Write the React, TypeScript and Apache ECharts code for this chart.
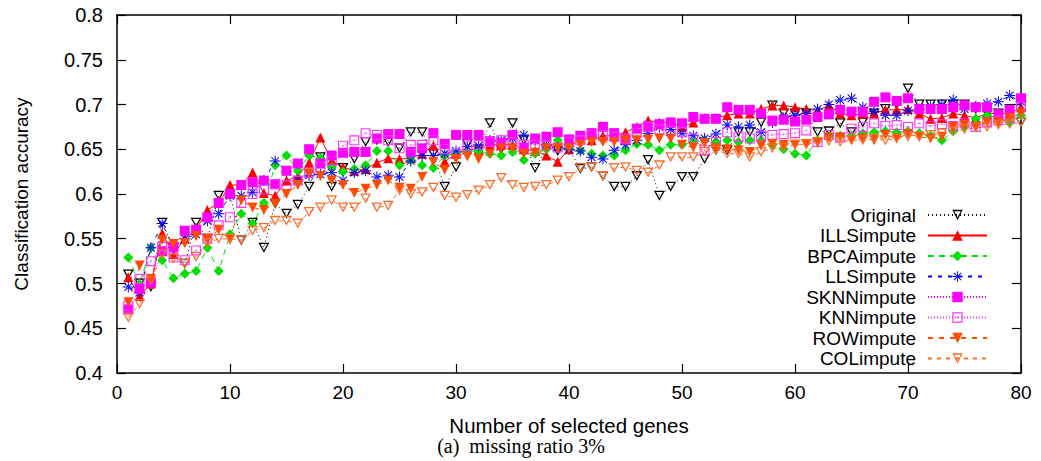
import React, { useEffect, useRef } from "react";
import * as echarts from "echarts";

const genes = [
  1, 2, 3, 4, 5, 6, 7, 8, 9, 10, 11, 12, 13, 14, 15, 16, 17, 18, 19, 20,
  21, 22, 23, 24, 25, 26, 27, 28, 29, 30, 31, 32, 33, 34, 35, 36, 37, 38, 39, 40,
  41, 42, 43, 44, 45, 46, 47, 48, 49, 50, 51, 52, 53, 54, 55, 56, 57, 58, 59, 60,
  61, 62, 63, 64, 65, 66, 67, 68, 69, 70, 71, 72, 73, 74, 75, 76, 77, 78, 79, 80,
];

const original = [
  0.51, 0.5, 0.496, 0.568, 0.54, 0.522, 0.568, 0.55, 0.598, 0.6,
  0.548, 0.568, 0.54, 0.589, 0.578, 0.588, 0.608, 0.641, 0.608, 0.629,
  0.639, 0.658, 0.66, 0.658, 0.651, 0.669, 0.669, 0.645, 0.608, 0.63,
  0.656, 0.65, 0.679, 0.65, 0.679, 0.66, 0.629, 0.65, 0.648, 0.65,
  0.628, 0.63, 0.62, 0.608, 0.608, 0.62, 0.638, 0.598, 0.608, 0.619,
  0.619, 0.639, 0.649, 0.649, 0.669, 0.669, 0.68, 0.699, 0.69, 0.69,
  0.69, 0.669, 0.67, 0.679, 0.669, 0.68, 0.69, 0.695, 0.7, 0.718,
  0.7, 0.7, 0.7, 0.7, 0.7, 0.695, 0.69, 0.69, 0.695, 0.68,
];
const ills = [
  0.507, 0.486, 0.5, 0.556, 0.533, 0.55, 0.56, 0.582, 0.59, 0.61,
  0.61, 0.624, 0.601, 0.598, 0.615, 0.62, 0.635, 0.663, 0.637, 0.63,
  0.626, 0.628, 0.635, 0.64, 0.639, 0.64, 0.645, 0.654, 0.636, 0.645,
  0.65, 0.65, 0.655, 0.655, 0.655, 0.65, 0.648, 0.643, 0.636, 0.65,
  0.663, 0.66, 0.665, 0.665, 0.669, 0.675, 0.682, 0.68, 0.68, 0.675,
  0.68, 0.685, 0.685, 0.688, 0.69, 0.69, 0.695, 0.699, 0.699, 0.697,
  0.695, 0.693, 0.699, 0.69, 0.688, 0.69, 0.69, 0.694, 0.694, 0.695,
  0.69, 0.684, 0.685, 0.69, 0.688, 0.685, 0.69, 0.69, 0.69, 0.697,
];
const bpca = [
  0.529, 0.499, 0.54, 0.526, 0.506, 0.511, 0.514, 0.54, 0.514, 0.555,
  0.578, 0.567, 0.59, 0.632, 0.643, 0.626, 0.643, 0.64, 0.63, 0.625,
  0.628, 0.632, 0.648, 0.648, 0.632, 0.638, 0.632, 0.629, 0.643, 0.645,
  0.648, 0.648, 0.645, 0.643, 0.647, 0.638, 0.645, 0.65, 0.66, 0.652,
  0.649, 0.645, 0.643, 0.643, 0.649, 0.656, 0.655, 0.649, 0.655, 0.655,
  0.658, 0.66, 0.658, 0.66, 0.658, 0.66, 0.66, 0.655, 0.65, 0.645,
  0.643, 0.66, 0.665, 0.665, 0.665, 0.668, 0.669, 0.67, 0.669, 0.67,
  0.668, 0.665, 0.66, 0.67, 0.675, 0.684, 0.688, 0.685, 0.68, 0.688,
];
const lls = [
  0.496, 0.49, 0.54, 0.567, 0.54, 0.55, 0.555, 0.57, 0.578, 0.598,
  0.598, 0.602, 0.615, 0.637, 0.625, 0.615, 0.621, 0.622, 0.624, 0.615,
  0.624, 0.626, 0.619, 0.621, 0.619, 0.637, 0.643, 0.643, 0.645, 0.648,
  0.653, 0.654, 0.66, 0.66, 0.662, 0.666, 0.66, 0.655, 0.652, 0.65,
  0.648, 0.641, 0.639, 0.649, 0.655, 0.66, 0.668, 0.675, 0.672, 0.668,
  0.665, 0.662, 0.667, 0.677, 0.675, 0.677, 0.669, 0.68, 0.685, 0.688,
  0.69, 0.695, 0.7, 0.705, 0.707, 0.697, 0.692, 0.688, 0.688, 0.693,
  0.695, 0.698, 0.7, 0.705, 0.695, 0.698, 0.701, 0.703, 0.71, 0.703,
];
const sknn = [
  0.471, 0.494, 0.501, 0.536, 0.541, 0.559, 0.56, 0.574, 0.59, 0.6,
  0.61, 0.613, 0.615, 0.611, 0.626, 0.634, 0.65, 0.634, 0.643, 0.646,
  0.647, 0.647, 0.662, 0.667, 0.667, 0.647, 0.651, 0.668, 0.656, 0.666,
  0.666, 0.666, 0.659, 0.657, 0.666, 0.652, 0.662, 0.664, 0.669, 0.661,
  0.665, 0.668, 0.675, 0.668, 0.661, 0.673, 0.676, 0.678, 0.68, 0.679,
  0.686, 0.684, 0.684, 0.697, 0.694, 0.694, 0.69, 0.682, 0.683, 0.681,
  0.683, 0.686, 0.689, 0.694, 0.692, 0.692, 0.703, 0.708, 0.704, 0.707,
  0.695, 0.695, 0.695, 0.697, 0.699, 0.697, 0.697, 0.689, 0.694, 0.707,
];
const knn = [
  0.475, 0.505, 0.525, 0.541, 0.529, 0.526, 0.537, 0.55, 0.565, 0.574,
  0.59, 0.6, 0.605, 0.611, 0.61, 0.615, 0.624, 0.63, 0.637, 0.654,
  0.66, 0.668, 0.666, 0.66, 0.651, 0.655, 0.655, 0.66, 0.65, 0.645,
  0.654, 0.655, 0.658, 0.66, 0.658, 0.655, 0.655, 0.655, 0.652, 0.658,
  0.66, 0.666, 0.666, 0.664, 0.662, 0.668, 0.675, 0.672, 0.67, 0.669,
  0.662, 0.649, 0.658, 0.669, 0.664, 0.662, 0.665, 0.666, 0.667, 0.668,
  0.671, 0.658, 0.666, 0.663, 0.673, 0.675, 0.679, 0.676, 0.677, 0.675,
  0.679, 0.676, 0.678, 0.676, 0.679, 0.675, 0.68, 0.682, 0.685, 0.697,
];
const row = [
  0.479, 0.52, 0.505, 0.549, 0.544, 0.545, 0.553, 0.55, 0.56, 0.549,
  0.593, 0.585, 0.582, 0.589, 0.6, 0.61, 0.623, 0.62, 0.615, 0.61,
  0.601, 0.606, 0.61, 0.615, 0.607, 0.606, 0.619, 0.636, 0.627, 0.639,
  0.642, 0.639, 0.645, 0.651, 0.651, 0.645, 0.646, 0.651, 0.651, 0.651,
  0.655, 0.658, 0.658, 0.658, 0.66, 0.66, 0.661, 0.662, 0.662, 0.655,
  0.652, 0.657, 0.651, 0.65, 0.649, 0.647, 0.654, 0.656, 0.655, 0.655,
  0.655, 0.657, 0.663, 0.663, 0.66, 0.662, 0.66, 0.666, 0.662, 0.667,
  0.664, 0.662, 0.664, 0.675, 0.677, 0.675, 0.68, 0.68, 0.685, 0.69,
];
const col = [
  0.462, 0.477, 0.503, 0.533, 0.528, 0.522, 0.53, 0.545, 0.55, 0.55,
  0.548, 0.559, 0.562, 0.57, 0.57, 0.567, 0.58, 0.585, 0.593, 0.585,
  0.585, 0.595, 0.585, 0.587, 0.604, 0.6, 0.602, 0.607, 0.598, 0.596,
  0.599, 0.604, 0.61, 0.618, 0.61, 0.607, 0.608, 0.61, 0.615, 0.619,
  0.629, 0.63, 0.62, 0.629, 0.63, 0.626, 0.624, 0.632, 0.641, 0.641,
  0.641, 0.647, 0.649, 0.645, 0.645, 0.641, 0.647, 0.651, 0.652, 0.655,
  0.656, 0.658, 0.659, 0.658, 0.66, 0.66, 0.662, 0.66, 0.662, 0.664,
  0.664, 0.666, 0.668, 0.67, 0.672, 0.674, 0.675, 0.677, 0.678, 0.68,
];

const yTicks = ["0.4", "0.45", "0.5", "0.55", "0.6", "0.65", "0.7", "0.75", "0.8"];
const xTicks = ["0", "10", "20", "30", "40", "50", "60", "70", "80"];

// gnuplot-like point shapes (hollow shapes are outlines with a hole, no white fill)
const ASTERISK =
  "path://M-1,-0.09L1,-0.09L1,0.09L-1,0.09Z M-0.09,-1L0.09,-1L0.09,1L-0.09,1Z M-0.64,-0.77L0.77,0.64L0.64,0.77L-0.77,-0.64Z M-0.64,0.77L0.77,-0.64L0.64,-0.77L-0.77,0.64Z";
const HOLLOW_DOWN_TRI =
  "path://M-1,-0.9L1,-0.9L0,0.9Z M-0.62,-0.67L0,0.45L0.62,-0.67Z";
const HOLLOW_SQUARE =
  "path://M-1,-1L1,-1L1,1L-1,1Z M-0.78,-0.78L-0.78,0.78L0.78,0.78L0.78,-0.78Z M-0.13,-0.13L0.13,-0.13L0.13,0.13L-0.13,0.13Z";

const SANS = "'Liberation Sans', Arial, Helvetica, sans-serif";
const SERIF = "'Liberation Serif', 'Times New Roman', serif";

type Spec = {
  name: string;
  values: number[];
  color: string;
  symbol: string;
  size: number | number[];
  rotate?: number;
  dash: any;
};

const specs: Spec[] = [
  { name: "Original", values: original, color: "#000000", symbol: HOLLOW_DOWN_TRI, size: [11, 10], dash: [1, 3] },
  { name: "ILLSimpute", values: ills, color: "#ff0000", symbol: "triangle", size: 10, dash: "solid" },
  { name: "BPCAimpute", values: bpca, color: "#00e000", symbol: "diamond", size: 10, dash: [6, 5] },
  { name: "LLSimpute", values: lls, color: "#0000ff", symbol: ASTERISK, size: 11, dash: [4, 6] },
  { name: "SKNNimpute", values: sknn, color: "#ff00ff", symbol: "rect", size: 10, dash: [1, 2] },
  { name: "KNNimpute", values: knn, color: "#ff33ff", symbol: HOLLOW_SQUARE, size: 10, dash: [1, 2] },
  { name: "ROWimpute", values: row, color: "#ff4d00", symbol: "triangle", size: 10, rotate: 180, dash: [5, 6] },
  { name: "COLimpute", values: col, color: "#ff6a2a", symbol: HOLLOW_DOWN_TRI, size: [11, 10], dash: [4, 5] },
];

export default function App() {
  const ref = useRef<HTMLDivElement>(null);

  useEffect(() => {
    if (!ref.current) return;
    const chart = echarts.init(ref.current, undefined, { renderer: "svg" });

    const series = specs.map((s) => ({
      name: s.name,
      type: "line",
      data: genes.map((g, i) => [g, s.values[i]]),
      symbol: s.symbol,
      symbolSize: s.size,
      symbolRotate: s.rotate || 0,
      showAllSymbol: true,
      lineStyle: { color: s.color, width: 1, type: s.dash },
      itemStyle: { color: s.color, borderWidth: 0 },
      emphasis: { disabled: true },
      silent: true,
    }));

    const axisLineStyle = { color: "#000", width: 1.5 };
    const tickStyle = { color: "#000", width: 1.2 };

    chart.setOption({
      animation: false,
      backgroundColor: "#ffffff",
      grid: { left: 117, right: 20, top: 15, bottom: 88, containLabel: false },
      legend: {
        orient: "vertical",
        right: 53,
        top: 205,
        align: "right",
        itemWidth: 59,
        itemHeight: 13,
        itemGap: 0.5,
        padding: 0,
        selectedMode: false,
        data: specs.map((s) => s.name),
        textStyle: {
          fontSize: 19,
          fontFamily: SANS,
          color: "#000",
          lineHeight: 20,
          padding: [0, 7, 0, 0],
        },
      },
      xAxis: [
        {
          type: "value",
          min: 0,
          max: 80,
          interval: 10,
          position: "bottom",
          axisLine: { show: true, onZero: false, lineStyle: axisLineStyle },
          axisTick: { show: true, inside: true, length: 9, lineStyle: tickStyle },
          splitLine: { show: false },
          axisLabel: {
            margin: 10,
            fontSize: 19,
            fontFamily: SANS,
            color: "#000",
            formatter: (v: number) => xTicks[Math.round(v / 10)] ?? String(v),
          },
          name: "Number of selected genes",
          nameLocation: "middle",
          nameGap: 42,
          nameTextStyle: { fontSize: 20.5, fontFamily: SANS, color: "#000" },
        },
        {
          type: "value",
          min: 0,
          max: 80,
          interval: 10,
          position: "top",
          axisLine: { show: true, onZero: false, lineStyle: axisLineStyle },
          axisTick: { show: true, inside: true, length: 9, lineStyle: tickStyle },
          axisLabel: { show: false },
          splitLine: { show: false },
        },
      ],
      yAxis: [
        {
          type: "value",
          min: 0.4,
          max: 0.8,
          interval: 0.05,
          position: "left",
          axisLine: { show: true, onZero: false, lineStyle: axisLineStyle },
          axisTick: { show: true, inside: true, length: 9, lineStyle: tickStyle },
          splitLine: { show: false },
          axisLabel: {
            margin: 14,
            fontSize: 20,
            fontFamily: SANS,
            color: "#000",
            formatter: (v: number) => yTicks[Math.round((v - 0.4) / 0.05)] ?? String(v),
          },
          name: "Classification accuracy",
          nameLocation: "middle",
          nameGap: 86,
          nameTextStyle: { fontSize: 19, fontFamily: SANS, color: "#000" },
        },
        {
          type: "value",
          min: 0.4,
          max: 0.8,
          interval: 0.05,
          position: "right",
          axisLine: { show: true, onZero: false, lineStyle: axisLineStyle },
          axisTick: { show: true, inside: true, length: 9, lineStyle: tickStyle },
          axisLabel: { show: false },
          splitLine: { show: false },
        },
      ],
      graphic: [
        {
          type: "text",
          x: 521,
          y: 446,
          style: {
            text: "(a)  missing ratio 3%",
            fontSize: 20,
            fontFamily: SERIF,
            fill: "#000",
            align: "center",
            verticalAlign: "middle",
          },
        },
      ],
      series,
    });

    return () => chart.dispose();
  }, []);

  return (
    <div
      ref={ref}
      style={{ position: "fixed", left: 0, top: 0, width: 1041, height: 461, background: "#fff" }}
    />
  );
}
